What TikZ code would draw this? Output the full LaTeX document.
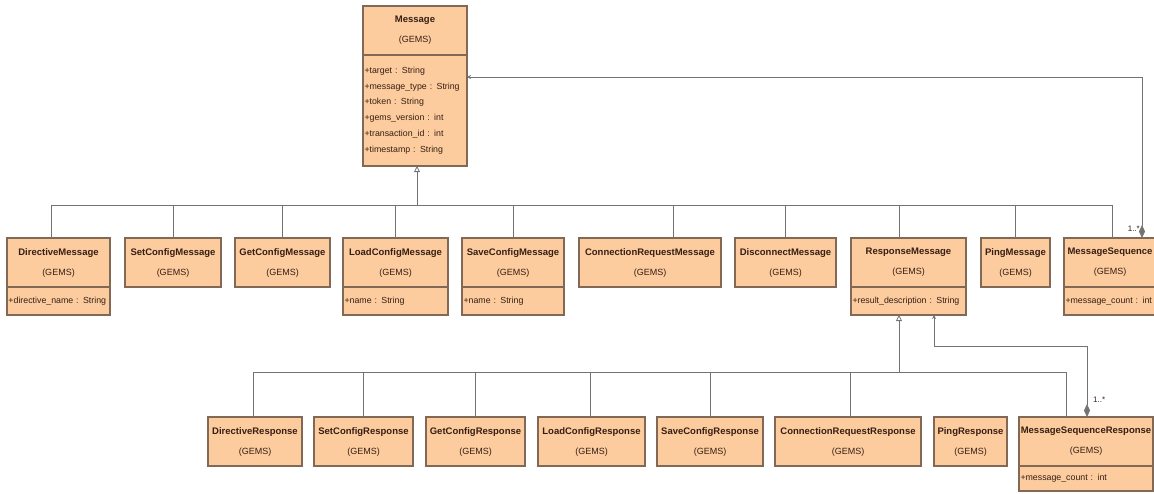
\documentclass[tikz,border=0pt]{standalone}
\usepackage{fontspec}
\setmainfont{Liberation Sans}
\usetikzlibrary{arrows.meta,calc}

\definecolor{classfill}{RGB}{252,204,158}
\definecolor{classdraw}{RGB}{130,105,85}
\definecolor{linkgray}{RGB}{115,115,115}
\definecolor{textbrown}{RGB}{55,30,20}

\tikzset{
	classhead/.style={draw=classdraw, fill=classfill, line width=1.1pt, text=textbrown, align=center, inner sep=0pt, outer sep=0pt, anchor=north west, font=\fontsize{9}{20}\selectfont},
	classattr/.style={draw=classdraw, fill=classfill, line width=1.1pt, text=textbrown, align=left, inner xsep=1.5pt, inner ysep=0pt, outer sep=0pt, anchor=north west, font=\fontsize{8.8}{15.8}\selectfont},
	tree/.style={draw=linkgray, line width=0.8pt},
	gen/.style={tree, -{Triangle[open, length=6pt, width=6pt]}},
	assoc/.style={tree, {Stealth[length=4pt, width=4pt]}-{Diamond[length=13pt, width=6pt]}},
	mult/.style={text=textbrown, font=\fontsize{8}{9}\selectfont, inner sep=0pt}
}

\def\umlhead(#1)(#2,#3)(#4:#5)#6{\node[classhead, minimum width=#4pt, minimum height=#5pt] (#1) at (#2,#3) {{\fontsize{9.5}{20}\selectfont\bfseries #6}\\(GEMS)};}
\def\umlattr(#1)(#2)(#3:#4)#5{\pgfmathsetmacro\attrw{#3-3}\node[classattr, text width=\attrw pt, minimum height=#4pt] (#1) at (#2.south west) {#5};}

\begin{document}
\begin{tikzpicture}[x=1pt, y=-1pt]
	%%%%% START %%%%%
	\useasboundingbox (0,0) rectangle (1154,493);
	
	\umlhead(msg)(363,6)(104:49){Message}
	\umlattr(msgA)(msg)(104:111){+target : String\\+message\_type : String\\+token : String\\+gems\_version : int\\+transaction\_id : int\\+timestamp : String}
	
	% first row
	\umlhead(dm)(7,238)(103:49){DirectiveMessage}
	\umlattr(dmA)(dm)(103:28){+directive\_name : String}
	\umlhead(scm)(125,238)(96:49){SetConfigMessage}
	\umlhead(gcm)(235,238)(95:49){GetConfigMessage}
	\umlhead(lcm)(343,238)(105:49){LoadConfigMessage}
	\umlattr(lcmA)(lcm)(105:28){+name : String}
	\umlhead(svm)(462,238)(102:49){SaveConfigMessage}
	\umlattr(svmA)(svm)(102:28){+name : String}
	\umlhead(crm)(579,238)(142:49){ConnectionRequestMessage}
	\umlhead(dcm)(735,238)(101:49){DisconnectMessage}
	\umlhead(rm)(851,238)(115:49){ResponseMessage}
	\umlattr(rmA)(rm)(115:28){+result\_description : String}
	\umlhead(pm)(981,238)(69:49){PingMessage}
	\umlhead(msm)(1064,238)(92:49){MessageSequence}
	\umlattr(msmA)(msm)(92:28){+message\_count : int}
	
	% second row
	\umlhead(dr)(208,417)(94:49){DirectiveResponse}
	\umlhead(scr)(314,417)(99:49){SetConfigResponse}
	\umlhead(gcr)(426,417)(99:49){GetConfigResponse}
	\umlhead(lcr)(538,417)(107:49){LoadConfigResponse}
	\umlhead(svr)(657,417)(106:49){SaveConfigResponse}
	\umlhead(crr)(775,417)(146:49){ConnectionRequestResponse}
	\umlhead(pr)(934,417)(73:49){PingResponse}
	\umlhead(msr)(1019,417)(134:49){MessageSequenceResponse}
	\umlattr(msrA)(msr)(134:25){+message\_count : int}
	
	% generalisation to Message
	\coordinate (g1) at (417,205);
	\draw[gen] (g1) -- (g1 |- msgA.south);
	\draw[tree] ([xshift=-7.5pt]dm.north) |- (g1);
	\draw[tree] (scm.north) |- (g1);
	\draw[tree] (gcm.north) |- (g1);
	\draw[tree] (lcm.north) |- (g1);
	\draw[tree] (svm.north) |- (g1);
	\draw[tree] ([xshift=23pt]crm.north) |- (g1);
	\draw[tree] (dcm.north) |- (g1);
	\draw[tree] ([xshift=-9.5pt]rm.north) |- (g1);
	\draw[tree] (pm.north) |- (g1);
	\draw[tree] ([xshift=2pt]msm.north) |- (g1);
	
	% generalisation to ResponseMessage
	\coordinate (g2) at (899,372);
	\draw[gen] (g2) -- (g2 |- rmA.south);
	\draw[tree] ([xshift=-2pt]dr.north) |- (g2);
	\draw[tree] (scr.north) |- (g2);
	\draw[tree] (gcr.north) |- (g2);
	\draw[tree] ([xshift=-1.5pt]lcr.north) |- (g2);
	\draw[tree] (svr.north) |- (g2);
	\draw[tree] ([xshift=2pt]crr.north) |- (g2);
	\draw[tree] ([xshift=-20pt]msr.north) |- (g2);
	
	% associations
	\coordinate (a1) at (1142,77);
	\draw[assoc] (msgA.east |- a1) -- (a1) -- (a1 |- msm.north);
	\node[mult, anchor=east] (m1) at (1140,229) {1..*};
	
	\coordinate (a2) at (934,346);
	\coordinate (a3) at (1087,346);
	\draw[assoc] (rmA.south -| a2) -- (a2) -- (a3) -- (a3 |- msr.north);
	\node[mult, anchor=west] (m2) at (1093,400) {1..*};
	%%%%% END %%%%%
\end{tikzpicture}
\end{document}
